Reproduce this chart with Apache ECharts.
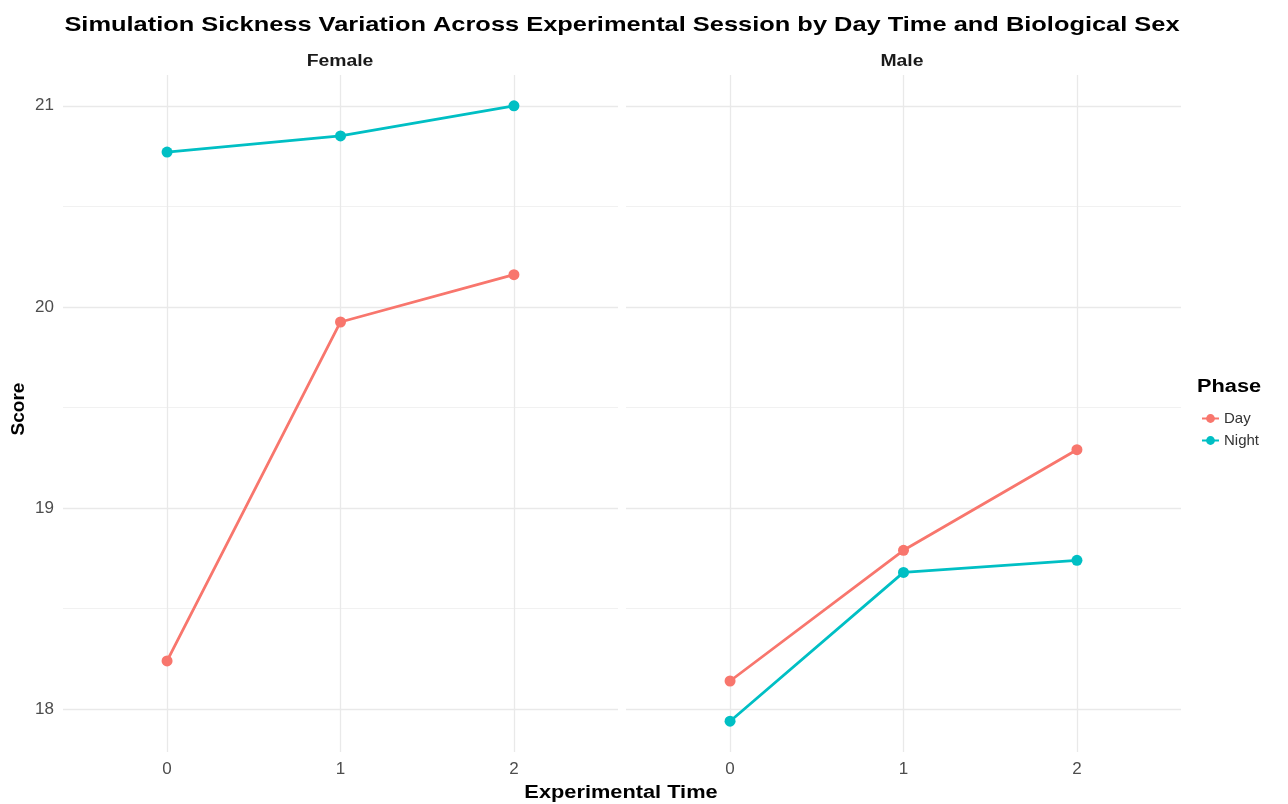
<!DOCTYPE html>
<html>
<head>
<meta charset="utf-8">
<script src="https://cdn.jsdelivr.net/npm/echarts@6/dist/echarts.min.js"></script>
<style>
  html, body { margin: 0; padding: 0; background: #ffffff; }
  #chart { width: 1288px; height: 804px; }
</style>
</head>
<body>
<div id="chart"></div>
<script>
// Experimental time points (x) and mean scores per phase and sex
const timePoints = [0, 1, 2];
const femaleDay = [18.24, 19.925, 20.16];
const femaleNight = [20.77, 20.85, 21.00];
const maleDay = [18.14, 18.79, 19.29];
const maleNight = [17.94, 18.68, 18.74];
const yTicks = [18, 19, 20, 21];
const yMinor = [18.5, 19.5, 20.5];
const xTicks = [0, 1, 2];
const panels = ['Female', 'Male'];
const phases = ['Day', 'Night'];

const COLORS = { Day: '#F8766D', Night: '#00BFC4' };
const FONT = '"Liberation Sans", Arial, sans-serif';
const WIDE = 1.21; // horizontal stretch applied to the heading texts

const yMin = 17.787, yMax = 21.153;
const xMin = -0.6, xMax = 2.6;

const grids = [
  { left: 63, top: 75, width: 555, height: 677 },
  { left: 626, top: 75, width: 555, height: 677 }
];

function pairs(values) {
  return timePoints.map((t, i) => [t, values[i]]);
}

function label(text, x, y, size, extra) {
  return {
    type: 'text', x, y, scaleX: WIDE, silent: true,
    style: Object.assign({ text, fontFamily: FONT, fontSize: size, fontWeight: 'bold', fill: '#000',
             textAlign: 'center', textVerticalAlign: 'middle' }, extra || {})
  };
}

const xAxes = grids.map((g, i) => ({
  type: 'value', gridIndex: i, min: xMin, max: xMax,
  axisLine: { show: false }, axisTick: { show: false }, splitLine: { show: false },
  axisLabel: {
    customValues: xTicks, margin: 9, color: '#4d4d4d', fontSize: 17, fontFamily: FONT,
    formatter: v => String(v)
  }
}));

const yAxes = grids.map((g, i) => ({
  type: 'value', gridIndex: i, min: yMin, max: yMax,
  axisLine: { show: false }, axisTick: { show: false }, splitLine: { show: false },
  axisLabel: {
    show: i === 0, customValues: yTicks, margin: 9, color: '#4d4d4d', fontSize: 17, fontFamily: FONT,
    formatter: v => String(v)
  }
}));

// Panel gridlines drawn as mark lines on an empty series, kept beneath the data
const gridSeries = grids.map((g, i) => ({
  type: 'line', xAxisIndex: i, yAxisIndex: i, data: [], silent: true, z: 0,
  markLine: {
    z: 0, silent: true, symbol: ['none', 'none'], animation: false, label: { show: false },
    data: [
      ...yMinor.map(v => ({ yAxis: v, lineStyle: { color: '#f1f1f1', width: 1, type: 'solid' } })),
      ...yTicks.map(v => ({ yAxis: v, lineStyle: { color: '#e9e9e9', width: 1.3, type: 'solid' } })),
      ...xTicks.map(v => ({ xAxis: v, lineStyle: { color: '#e9e9e9', width: 1.3, type: 'solid' } }))
    ]
  }
}));

function lineSeries(name, idx, values) {
  return {
    name, type: 'line', xAxisIndex: idx, yAxisIndex: idx, data: pairs(values),
    symbol: 'circle', symbolSize: 11, z: 3,
    itemStyle: { color: COLORS[name], borderWidth: 0 },
    lineStyle: { color: COLORS[name], width: 2.8 },
    emphasis: { disabled: true }, animation: false
  };
}

const option = {
  backgroundColor: '#ffffff',
  animation: false,
  graphic: [
    label('Simulation Sickness Variation Across Experimental Session by Day Time and Biological Sex', 622, 25, 21),
    label(panels[0], 340, 62, 16, { fill: '#1a1a1a' }),
    label(panels[1], 902, 62, 16, { fill: '#1a1a1a' }),
    label('Experimental Time', 621, 793, 18),
    label('Phase', 1197, 387, 18, { textAlign: 'left' }),
    { type: 'text', x: 19, y: 409, rotation: Math.PI / 2, silent: true,
      style: { text: 'Score', fontFamily: FONT, fontSize: 19, fontWeight: 'bold', fill: '#000',
               textAlign: 'center', textVerticalAlign: 'middle' } }
  ],
  legend: {
    data: phases, orient: 'vertical', left: 1196, top: 406,
    itemWidth: 17, itemHeight: 11, itemGap: 7,
    textStyle: { fontFamily: FONT, fontSize: 15, color: '#333' }
  },
  grid: grids,
  xAxis: xAxes,
  yAxis: yAxes,
  series: [
    ...gridSeries,
    lineSeries('Day', 0, femaleDay),
    lineSeries('Night', 0, femaleNight),
    lineSeries('Day', 1, maleDay),
    lineSeries('Night', 1, maleNight)
  ]
};

const chart = echarts.init(document.getElementById('chart'), null, { renderer: 'canvas' });
chart.setOption(option);
</script>
</body>
</html>
